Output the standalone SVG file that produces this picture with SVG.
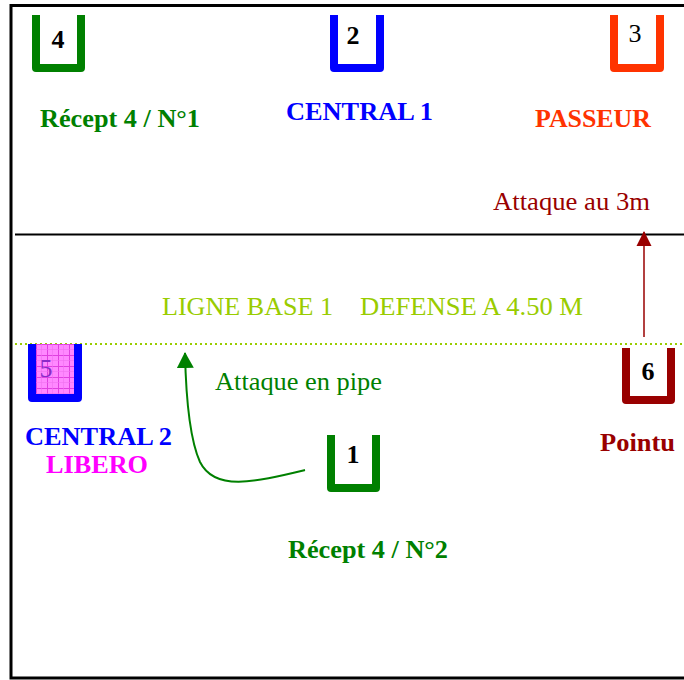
<svg xmlns="http://www.w3.org/2000/svg" width="684" height="680" viewBox="0 0 684 680">
<style>
.u{fill:none;stroke-width:8;stroke-linejoin:round}
.num{font-family:"Liberation Serif",serif;font-size:26px;font-weight:bold;text-anchor:middle;fill:#000}
.thin{font-weight:normal}
.purple{fill:#8A2BC8}
.lbl{font-family:"Liberation Serif",serif;font-size:26px;font-weight:bold}
.reg{font-family:"Liberation Serif",serif;font-size:25px}
</style>
<defs>
<pattern id="grid" width="11" height="11" patternUnits="userSpaceOnUse" x="36" y="344">
<rect width="11" height="11" fill="#FF88FF"/>
<path d="M0,0.5H11M0.5,0V11" stroke="#E040E0" stroke-width="1"/>
<path d="M0,5.5H11M5.5,0V11" stroke="#F070F0" stroke-width="0.6"/>
</pattern>
<marker id="ahG" markerWidth="17" markerHeight="17" refX="15" refY="8.5" orient="auto" markerUnits="userSpaceOnUse" viewBox="0 0 17 17">
<path d="M0,0 L16,8.5 L0,17 Z" fill="#008000"/>
</marker>
<marker id="ahR" markerWidth="16" markerHeight="16" refX="14" refY="8" orient="auto" markerUnits="userSpaceOnUse" viewBox="0 0 16 16">
<path d="M0,0.5 L15,8 L0,15.5 Z" fill="#990000"/>
</marker>
</defs>
<rect width="684" height="680" fill="#fff"/>
<path d="M684,5.5 H11 V678 H684" fill="none" stroke="#000" stroke-width="3"/>
<line x1="15" y1="234.5" x2="684" y2="234.5" stroke="#000" stroke-width="2"/>
<line x1="15" y1="344" x2="684" y2="344" stroke="#99CC00" stroke-width="2" stroke-dasharray="2,3"/>
<text class="reg" x="162" y="315" fill="#99CC00" textLength="171" lengthAdjust="spacingAndGlyphs">LIGNE BASE 1</text>
<text class="reg" x="360" y="315" fill="#99CC00" textLength="223" lengthAdjust="spacingAndGlyphs">DEFENSE A 4.50 M</text>
<g id="p4">
<path class="u" stroke="#008000" d="M36,15 V68 H81 V15"/>
<text class="num" x="58" y="48">4</text>
<text class="lbl" x="40" y="127" fill="#008000" textLength="160" lengthAdjust="spacingAndGlyphs">Récept 4 / N°1</text>
</g>
<g id="p2">
<path class="u" stroke="#0000FF" d="M334,15 V68 H380 V15"/>
<text class="num" x="353" y="44">2</text>
<text class="lbl" x="286" y="120" fill="#0000FF" textLength="147" lengthAdjust="spacingAndGlyphs">CENTRAL 1</text>
</g>
<g id="p3">
<path class="u" stroke="#FF3300" d="M614,15 V68 H660 V15"/>
<text class="num thin" x="635" y="42">3</text>
<text class="lbl" x="535" y="127" fill="#FF3300" textLength="116" lengthAdjust="spacingAndGlyphs">PASSEUR</text>
</g>
<g id="p5">
<rect x="36" y="344" width="38" height="50" fill="url(#grid)"/>
<path class="u" stroke="#0000FF" d="M32,344 V398 H78 V344"/>
<text class="num thin purple" x="46" y="377">5</text>
<text class="lbl" x="25" y="445" fill="#0000FF" textLength="147" lengthAdjust="spacingAndGlyphs">CENTRAL 2</text>
<text class="lbl" x="46" y="473" fill="#FF00FF" textLength="102" lengthAdjust="spacingAndGlyphs">LIBERO</text>
</g>
<g id="p6">
<path class="u" stroke="#990000" d="M626,348 V400 H671 V348"/>
<text class="num" x="648" y="380">6</text>
<text class="lbl" x="600" y="451" fill="#990000" textLength="75" lengthAdjust="spacingAndGlyphs">Pointu</text>
</g>
<g id="p1">
<path class="u" stroke="#008000" d="M331,435 V488 H376 V435"/>
<text class="num" x="353" y="463">1</text>
<text class="lbl" x="288" y="558" fill="#008000" textLength="160" lengthAdjust="spacingAndGlyphs">Récept 4 / N°2</text>
</g>
<g id="connectors">
<path d="M305,470 C255,482 215,492 200,462 C190,440 186,400 185,353" fill="none" stroke="#008000" stroke-width="2" marker-end="url(#ahG)"/>
<text class="reg" x="215" y="390" fill="#008000" textLength="167" lengthAdjust="spacingAndGlyphs">Attaque en pipe</text>
<line x1="644" y1="337" x2="644" y2="232" stroke="#990000" stroke-width="1.5" marker-end="url(#ahR)"/>
<text class="reg" x="493" y="210" fill="#990000" textLength="157" lengthAdjust="spacingAndGlyphs">Attaque au 3m</text>
</g>
</svg>
